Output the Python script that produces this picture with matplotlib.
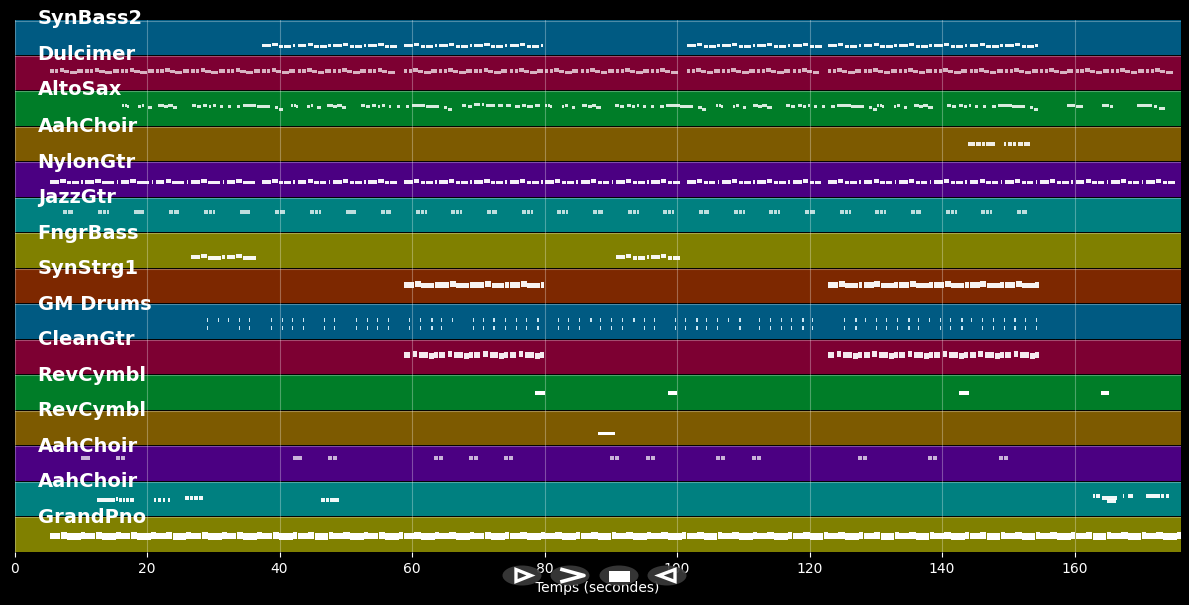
import matplotlib
matplotlib.use('Agg')
import matplotlib.pyplot as plt
from matplotlib.patches import Ellipse, Polygon, Rectangle

# pistes, de haut en bas
track_names = ['SynBass2', 'Dulcimer', 'AltoSax', 'AahChoir', 'NylonGtr', 'JazzGtr', 'FngrBass', 'SynStrg1',
               'GM Drums', 'CleanGtr', 'RevCymbl', 'RevCymbl', 'AahChoir', 'AahChoir', 'GrandPno']
lane_colors = ['#005a82', '#7d0032', '#007d28', '#7d5a00', '#4b0082', '#008080', '#808000', '#7d2800',
               '#005a82', '#7d0032', '#007d28', '#7d5a00', '#4b0082', '#008080', '#808000']
x_ticks = [0, 20, 40, 60, 80, 100, 120, 140, 160]

# motifs : (decalage en s, duree en s, decalage de hauteur)
bass_motif = [(0, 1.3, 0), (1.5, 0.8, -0.03), (2.5, 0.7, 0.02), (3.3, 1.1, 0.02), (4.6, 0.4, 0)]
dulcimer_motif = [(0, 0.5, 0), (0.7, 0.5, 0), (1.4, 0.7, -0.03), (2.1, 0.8, 0.02), (3.0, 1.0, 0.04), (4.1, 0.9, 0)]
nylon_motif = [(0, 1.3, 0), (1.5, 0.8, -0.03), (2.5, 0.7, 0.02), (3.3, 1.0, 0.02), (4.7, 0.2, 0)]
jazz_motif = [(0, 0.6, 0), (0.7, 0.5, 0), (1.3, 0.3, 0)]
clean_motif = [(0, 0.9, 0), (1.3, 0.7, -0.02), (2.3, 1.3, 0), (3.8, 0.7, 0.02), (4.5, 0.6, -0.01)]
string_motif = [(0, 1.5, 0), (1.6, 0.9, -0.03), (2.6, 1.9, 0.02), (4.6, 0.6, 0)]
piano_motif = [(0, 1.5, 0), (1.55, 0.95, -0.02), (2.55, 2.05, 0.015), (4.65, 0.65, -0.01)]
choir_motif = [(0, 0.6, 0), (0.7, 0.7, 0)]
alto_motif = [(0.2, 0.3, 0), (0.7, 0.3, 0), (1.0, 0.3, 0.03), (2.7, 0.4, 0.03), (3.2, 0.4, 0), (4.2, 0.5, 0.05),
              (5.7, 0.8, 0), (6.6, 0.6, 0.02), (7.2, 0.7, 0), (7.9, 0.7, 0.04), (10.8, 0.6, 0), (11.5, 0.6, 0.02),
              (12.5, 0.6, 0), (13.3, 0.4, 0.03), (14.0, 0.4, 0), (15.0, 0.4, 0.02), (16.2, 0.5, 0.03),
              (17.6, 0.5, 0.02), (18.5, 2.0, 0), (20.6, 1.9, 0.02), (23.3, 0.5, 0.06), (23.9, 0.6, 0.1)]

# debuts des motifs
long_onsets = [5.4, 10.7, 16.0, 21.3, 26.7, 32.0, 37.4, 42.75, 48.1, 53.4, 58.8, 64.1, 69.4, 74.8, 80.1, 85.5,
               90.8, 96.1, 101.5, 106.8, 112.1, 117.5, 122.8, 128.2, 133.5, 138.8, 144.2, 149.5, 154.8, 160.2,
               165.5, 170.8]
bass_onsets = [37.4, 42.75, 48.1, 53.4, 58.8, 64.1, 69.4, 74.8, 101.5, 106.8, 112.1, 117.5, 122.8, 128.2, 133.5,
               138.8, 144.2, 149.5]
fngr_onsets = [26.7, 32.0, 90.8, 96.1]
string_onsets = [58.8, 64.1, 69.4, 74.8, 122.8, 128.2, 133.5, 138.8, 144.2, 149.5]
jazz_onsets = [7.3, 12.6, 18.0, 23.3, 28.6, 34.0, 39.3, 44.6, 50.0, 55.3, 60.6, 65.9, 71.3, 76.6, 81.9, 87.3,
               92.6, 97.9, 103.3, 108.6, 113.9, 119.3, 124.6, 129.9, 135.3, 140.6, 145.9, 151.3]
alto_onsets = [16.0, 41.5, 79.9, 105.7, 130.0]
choir_onsets = [10.0, 15.3, 42.0, 47.3, 63.3, 68.6, 73.9, 89.9, 95.3, 105.9, 111.3, 127.3, 137.9, 148.6]
piano_onsets = [5.4, 10.7, 16.0, 21.3, 26.7, 32.0, 37.4, 42.75, 48.1, 53.4, 58.8, 64.1, 69.4, 74.8, 80.1, 85.5,
                90.8, 96.1, 101.5, 106.8, 112.1, 117.5, 122.8, 128.2, 133.5, 138.8, 144.2, 149.5, 154.8, 160.2,
                165.5, 170.8, 175.5]

# silences ou aucune note ne commence
phrase_rests = [(36.4, 37.3), (57.5, 58.7), (99.7, 101.4), (121.0, 122.7), (174.6, 180.0)]
alto_rests = [(154.6, 180.0)]

# notes isolees : (debut, duree, decalage de hauteur)
alto_extra = [(67.5, 0.7, 0), (68.4, 0.6, 0.02), (69.3, 0.9, -0.03), (70.5, 0.3, -0.03), (71.2, 1.3, 0), (73.0, 0.8, 0),
              (74.2, 0.8, 0), (75.5, 0.8, 0.02), (76.6, 0.6, 0), (77.4, 0.9, 0.02), (78.6, 0.7, 0),
              (158.8, 1.2, 0), (160.3, 1.0, 0.02), (164.2, 1.0, 0), (165.3, 0.5, 0.03),
              (169.5, 2.2, 0), (172.0, 0.5, 0.02), (172.8, 0.9, 0.08)]
choir4_notes = [(143.9, 1.1, 0), (145.2, 0.7, 0), (146.0, 0.5, 0), (146.6, 1.4, 0),
                (149.3, 0.3, 0), (149.9, 0.6, 0), (150.7, 0.5, 0), (151.4, 0.8, 0), (152.4, 0.9, 0)]
cymbal1_notes = [(78.6, 1.4, 0), (98.6, 1.4, 0), (142.6, 1.4, 0), (164.0, 1.2, 0)]
cymbal2_notes = [(88.0, 2.6, 0)]
choir14_notes = [(12.4, 0.5, 0), (12.9, 0.6, 0), (13.5, 0.6, 0), (14.1, 0.6, 0), (14.7, 0.5, 0), (15.3, 0.3, -0.03),
                 (15.8, 0.4, 0), (16.4, 0.3, 0), (16.9, 0.4, 0), (17.5, 0.6, 0),
                 (21.0, 0.4, 0), (21.7, 0.4, 0), (22.4, 0.3, 0), (23.1, 0.4, 0),
                 (25.8, 0.6, -0.04), (26.5, 0.5, -0.04), (27.1, 0.6, -0.04), (27.8, 0.6, -0.04),
                 (46.3, 0.6, 0), (47.0, 0.5, 0), (47.6, 0.6, 0), (48.3, 0.7, 0),
                 (162.8, 0.3, -0.1), (163.3, 0.5, -0.1), (164.2, 2.2, -0.06), (164.9, 1.4, 0.04), (167.3, 0.2, -0.1),
                 (168.1, 0.8, -0.1), (170.8, 1.3, -0.1), (172.2, 0.7, -0.1), (173.0, 0.5, -0.1), (173.8, 0.4, -0.1)]

# batterie, deux rangees
drum_high = [29.0, 30.7, 32.2, 33.9, 35.4, 38.7, 40.4, 41.9, 43.5, 46.7, 48.2, 51.5, 53.2, 54.7, 56.4, 59.5, 61.2,
             62.9, 64.4, 66.0, 69.2, 70.7, 72.3, 74.0, 75.7, 77.2, 78.9, 82.0, 83.5, 85.2, 86.9, 88.4, 90.0, 91.7,
             93.4, 95.0, 96.5, 99.7, 101.2, 102.9, 104.4, 106.0, 107.7, 109.4, 112.4, 114.0, 115.7, 117.2, 118.9,
             120.4, 125.2, 126.9, 128.4, 130.0, 131.5, 133.2, 134.9, 136.4, 138.0, 139.7, 141.2, 142.9, 144.4,
             146.0, 147.7, 149.3, 150.9, 152.5, 154.2]
drum_low = [29.0, 33.9, 35.4, 38.7, 40.4, 41.9, 43.5, 46.7, 48.2, 51.5, 53.2, 54.7, 56.4, 59.5, 61.2, 62.9, 64.4,
            69.2, 70.7, 72.3, 74.0, 75.7, 77.2, 78.9, 82.0, 83.5, 85.2, 88.4, 90.0, 91.7, 95.0, 96.5, 99.7, 101.2,
            102.9, 104.4, 106.0, 109.4, 112.4, 114.0, 115.7, 117.2, 118.9, 120.4, 125.2, 126.9, 130.0, 131.5,
            133.2, 134.9, 136.4, 139.7, 141.2, 142.9, 146.0, 147.7, 149.3, 150.9, 152.5, 154.2]

# hauteur de chaque piste dans sa bande (0 = haut, 1 = bas)
lane_levels = [0.73, 0.44, 0.42, 0.50, 0.57, 0.41, 0.68, 0.47, 0.46, 0.45, 0.52, 0.67, 0.35, 0.53, 0.55]


def expand(motif, onsets, rests=()):
    notes = []
    for onset in onsets:
        for offset, length, shift in motif:
            start = onset + offset
            if not any(a <= start < b for a, b in rests):
                notes.append((start, length, shift))
    return notes


track_notes = [
    (expand(bass_motif, bass_onsets, phrase_rests), 0.09, 0.95),
    (expand(dulcimer_motif, long_onsets, phrase_rests), 0.09, 0.7),
    (expand(alto_motif, alto_onsets, alto_rests) + alto_extra, 0.085, 0.85),
    (choir4_notes, 0.13, 0.9),
    (expand(nylon_motif, long_onsets, phrase_rests), 0.09, 0.95),
    (expand(jazz_motif, jazz_onsets), 0.1, 0.75),
    (expand(bass_motif, fngr_onsets, phrase_rests), 0.11, 0.95),
    (expand(string_motif, string_onsets, phrase_rests), 0.15, 0.95),
    ([], 0.1, 0.8),
    (expand(clean_motif, string_onsets, phrase_rests), 0.17, 0.92),
    (cymbal1_notes, 0.11, 1),
    (cymbal2_notes, 0.09, 1),
    (expand(choir_motif, choir_onsets), 0.1, 0.7),
    (choir14_notes, 0.11, 0.95),
    (expand(piano_motif, piano_onsets, [(176.5, 180.0)]), 0.19, 1),
]

fig = plt.figure(figsize=(11.89, 6.05), dpi=100, facecolor='black')
ax = fig.add_axes([14.5 / 1189, 1 - 552 / 605, (1180.5 - 14.5) / 1189, (552 - 20) / 605], facecolor='black')

# bandes de couleur
for i, color in enumerate(lane_colors):
    ax.barh(i + 0.5, 176, height=0.975, left=0, color=color, linewidth=0, zorder=1)
    ax.plot([0, 176], [i + 0.015, i + 0.015], color='white', alpha=0.3, lw=0.8, zorder=1.5)

# notes
for i, (notes, thick, alpha) in enumerate(track_notes):
    level = lane_levels[i]
    for start, length, shift in notes:
        ax.barh(i + level + shift, length, height=thick, left=start, color='white', alpha=alpha, linewidth=0, zorder=3)

# batterie
ax.barh([8 + 0.46] * len(drum_high), 0.2, height=0.12, left=drum_high, color='#d8f0fa', alpha=0.95, linewidth=0, zorder=3)
ax.barh([8 + 0.68] * len(drum_low), 0.2, height=0.12, left=drum_low, color='#d8f0fa', alpha=0.95, linewidth=0, zorder=3)

# noms des pistes
for i, name in enumerate(track_names):
    ax.text(3.5, i + (-0.03 if i < 3 else 0.015), name, color='white', fontsize=14, fontweight='bold', va='center', ha='left',
            clip_on=False, zorder=5)

ax.set_xlim(0, 176)
ax.set_ylim(15, 0)
ax.set_yticks([])
ax.set_xticks(x_ticks)
ax.tick_params(axis='x', colors='white', labelsize=10, length=3.5, width=0.8)
ax.grid(axis='x', color='white', alpha=0.3, lw=0.8, zorder=2)
ax.set_axisbelow(False)
for spine in ax.spines.values():
    spine.set_visible(False)
ax.set_xlabel('Temps (secondes)', color='white', fontsize=10, labelpad=4)

# boutons du lecteur par dessus
over = fig.add_axes([0, 0, 1, 1], facecolor='none')
over.set_xlim(0, 1189)
over.set_ylim(605, 0)
over.axis('off')
for cx in [522, 570, 619, 667]:
    over.add_patch(Ellipse((cx, 575.5), 39, 20, color='#3a3a3a', alpha=0.92, lw=0))
over.add_patch(Polygon([(516, 569.5), (531, 575.5), (516, 581.5)], closed=True, fill=False, edgecolor='white', lw=2.4))
over.plot([562, 584, 562], [569.5, 575.5, 581.5], color='white', lw=2.6)
over.add_patch(Rectangle((609, 570.5), 21, 11, color='white', lw=0))
over.add_patch(Polygon([(675, 569.5), (659, 575.5), (675, 581.5)], closed=True, fill=False, edgecolor='white', lw=2.4))

fig.savefig('out.png', dpi=100, facecolor='black')
